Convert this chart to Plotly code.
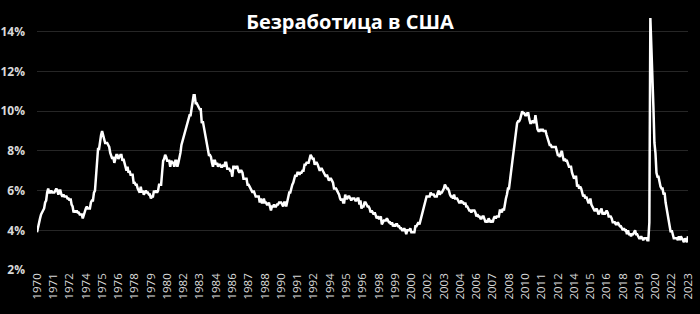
import plotly.graph_objects as go

title_text = "Безработица в США"

# Monthly US unemployment rate (%), Jan 1970 – May 2023
rate_by_year = {
    1970: [3.9, 4.2, 4.4, 4.6, 4.8, 4.9, 5.0, 5.1, 5.4, 5.5, 5.9, 6.1],
    1971: [5.9, 5.9, 6.0, 5.9, 5.9, 5.9, 6.0, 6.1, 6.0, 5.8, 6.0, 6.0],
    1972: [5.8, 5.7, 5.8, 5.7, 5.7, 5.7, 5.6, 5.6, 5.5, 5.6, 5.3, 5.2],
    1973: [4.9, 5.0, 4.9, 5.0, 4.9, 4.9, 4.8, 4.8, 4.8, 4.6, 4.8, 4.9],
    1974: [5.1, 5.2, 5.1, 5.1, 5.1, 5.4, 5.5, 5.5, 5.9, 6.0, 6.6, 7.2],
    1975: [8.1, 8.1, 8.6, 8.8, 9.0, 8.8, 8.6, 8.4, 8.4, 8.4, 8.3, 8.2],
    1976: [7.9, 7.7, 7.6, 7.7, 7.4, 7.6, 7.8, 7.8, 7.6, 7.7, 7.8, 7.8],
    1977: [7.5, 7.6, 7.4, 7.2, 7.0, 7.2, 6.9, 7.0, 6.8, 6.8, 6.8, 6.4],
    1978: [6.4, 6.3, 6.3, 6.1, 6.0, 5.9, 6.2, 5.9, 6.0, 5.8, 5.9, 6.0],
    1979: [5.9, 5.9, 5.8, 5.8, 5.6, 5.7, 5.7, 6.0, 5.9, 6.0, 5.9, 6.0],
    1980: [6.3, 6.3, 6.3, 6.9, 7.5, 7.6, 7.8, 7.7, 7.5, 7.5, 7.5, 7.2],
    1981: [7.5, 7.4, 7.4, 7.2, 7.5, 7.5, 7.2, 7.4, 7.6, 7.9, 8.3, 8.5],
    1982: [8.6, 8.9, 9.0, 9.3, 9.4, 9.6, 9.8, 9.8, 10.1, 10.4, 10.8, 10.8],
    1983: [10.4, 10.4, 10.3, 10.2, 10.1, 10.1, 9.4, 9.5, 9.2, 8.8, 8.5, 8.3],
    1984: [8.0, 7.8, 7.8, 7.7, 7.4, 7.2, 7.5, 7.5, 7.3, 7.4, 7.2, 7.3],
    1985: [7.3, 7.2, 7.2, 7.3, 7.2, 7.4, 7.4, 7.1, 7.1, 7.1, 7.0, 7.0],
    1986: [6.7, 7.2, 7.2, 7.1, 7.2, 7.2, 7.0, 6.9, 7.0, 7.0, 6.9, 6.6],
    1987: [6.6, 6.6, 6.6, 6.3, 6.3, 6.2, 6.1, 6.0, 5.9, 6.0, 5.8, 5.7],
    1988: [5.7, 5.7, 5.7, 5.4, 5.6, 5.4, 5.4, 5.6, 5.4, 5.4, 5.3, 5.3],
    1989: [5.4, 5.2, 5.0, 5.2, 5.2, 5.3, 5.2, 5.2, 5.3, 5.3, 5.4, 5.4],
    1990: [5.4, 5.3, 5.2, 5.4, 5.4, 5.2, 5.5, 5.7, 5.9, 5.9, 6.2, 6.3],
    1991: [6.4, 6.6, 6.8, 6.7, 6.9, 6.9, 6.8, 6.9, 6.9, 7.0, 7.0, 7.3],
    1992: [7.3, 7.4, 7.4, 7.4, 7.6, 7.8, 7.7, 7.6, 7.6, 7.3, 7.4, 7.4],
    1993: [7.3, 7.1, 7.0, 7.1, 7.1, 7.0, 6.9, 6.8, 6.7, 6.8, 6.6, 6.5],
    1994: [6.6, 6.6, 6.5, 6.4, 6.1, 6.1, 6.1, 6.0, 5.9, 5.8, 5.6, 5.5],
    1995: [5.6, 5.4, 5.4, 5.8, 5.6, 5.6, 5.7, 5.7, 5.6, 5.5, 5.6, 5.6],
    1996: [5.6, 5.5, 5.5, 5.6, 5.6, 5.3, 5.5, 5.1, 5.2, 5.2, 5.4, 5.4],
    1997: [5.3, 5.2, 5.2, 5.1, 4.9, 5.0, 4.9, 4.8, 4.9, 4.7, 4.6, 4.7],
    1998: [4.6, 4.6, 4.7, 4.3, 4.4, 4.5, 4.5, 4.5, 4.6, 4.5, 4.4, 4.4],
    1999: [4.3, 4.4, 4.2, 4.3, 4.2, 4.3, 4.3, 4.2, 4.2, 4.1, 4.1, 4.0],
    2000: [4.0, 4.1, 4.0, 3.8, 4.0, 4.0, 4.0, 4.1, 3.9, 3.9, 3.9, 3.9],
    2001: [4.2, 4.2, 4.3, 4.4, 4.3, 4.5, 4.6, 4.9, 5.0, 5.3, 5.5, 5.7],
    2002: [5.7, 5.7, 5.7, 5.9, 5.8, 5.8, 5.8, 5.7, 5.7, 5.7, 5.9, 6.0],
    2003: [5.8, 5.9, 5.9, 6.0, 6.1, 6.3, 6.2, 6.1, 6.1, 6.0, 5.8, 5.7],
    2004: [5.7, 5.6, 5.8, 5.6, 5.6, 5.6, 5.5, 5.4, 5.4, 5.5, 5.4, 5.4],
    2005: [5.3, 5.4, 5.2, 5.2, 5.1, 5.0, 5.0, 4.9, 5.0, 5.0, 5.0, 4.9],
    2006: [4.7, 4.8, 4.7, 4.7, 4.6, 4.6, 4.7, 4.7, 4.5, 4.4, 4.5, 4.4],
    2007: [4.6, 4.5, 4.4, 4.5, 4.4, 4.6, 4.7, 4.6, 4.7, 4.7, 4.7, 5.0],
    2008: [5.0, 4.9, 5.1, 5.0, 5.4, 5.6, 5.8, 6.1, 6.1, 6.5, 6.8, 7.3],
    2009: [7.8, 8.3, 8.7, 9.0, 9.4, 9.5, 9.5, 9.6, 9.8, 10.0, 9.9, 9.9],
    2010: [9.8, 9.8, 9.9, 9.9, 9.6, 9.4, 9.4, 9.5, 9.5, 9.4, 9.8, 9.3],
    2011: [9.1, 9.0, 9.0, 9.1, 9.0, 9.1, 9.0, 9.0, 9.0, 8.8, 8.6, 8.5],
    2012: [8.3, 8.3, 8.2, 8.2, 8.2, 8.2, 8.2, 8.0, 7.8, 7.8, 7.7, 7.9],
    2013: [8.0, 7.7, 7.5, 7.6, 7.5, 7.5, 7.3, 7.2, 7.2, 7.2, 6.9, 6.7],
    2014: [6.6, 6.7, 6.7, 6.2, 6.3, 6.1, 6.2, 6.1, 5.9, 5.7, 5.8, 5.6],
    2015: [5.7, 5.5, 5.4, 5.4, 5.6, 5.3, 5.2, 5.1, 5.0, 5.0, 5.1, 5.0],
    2016: [4.8, 4.9, 5.0, 5.1, 4.8, 4.9, 4.8, 4.9, 5.0, 4.9, 4.7, 4.7],
    2017: [4.7, 4.6, 4.4, 4.4, 4.4, 4.3, 4.3, 4.4, 4.3, 4.2, 4.2, 4.1],
    2018: [4.0, 4.1, 4.0, 4.0, 3.8, 4.0, 3.8, 3.8, 3.7, 3.8, 3.8, 3.9],
    2019: [4.0, 3.8, 3.8, 3.7, 3.6, 3.6, 3.7, 3.6, 3.5, 3.6, 3.6, 3.6],
    2020: [3.5, 3.5, 4.4, 14.7, 13.2, 11.0, 10.2, 8.4, 7.9, 6.9, 6.7, 6.7],
    2021: [6.4, 6.2, 6.1, 6.1, 5.8, 5.9, 5.4, 5.1, 4.7, 4.5, 4.2, 3.9],
    2022: [4.0, 3.8, 3.6, 3.6, 3.6, 3.6, 3.5, 3.7, 3.5, 3.7, 3.6, 3.5],
    2023: [3.4, 3.6, 3.5, 3.4, 3.7],
}

months = []
values = []
for yr, vals in rate_by_year.items():
    for m, v in enumerate(vals, start=1):
        months.append(f"{yr}-{m:02d}")
        values.append(v)

# Year labels every 16 months (category axis, as in the source chart)
tick_step = 16
tick_vals = months[::tick_step]
tick_text = [s[:4] for s in tick_vals]

y_ticks = [2, 4, 6, 8, 10, 12, 14]
y_text = [f"<b>{t}%</b>" for t in y_ticks]

fig = go.Figure()
fig.add_trace(go.Scatter(
    x=months, y=values, mode="lines",
    line=dict(color="#ffffff", width=2.5),
    hoverinfo="x+y",
))

font_family = "Open Sans, Noto Sans, DejaVu Sans, sans-serif"

fig.update_layout(
    width=700, height=314,
    paper_bgcolor="#000000", plot_bgcolor="#000000",
    margin=dict(l=37, r=12, t=8, b=44, autoexpand=False),
    showlegend=False,
    title=dict(
        text=f"<b>{title_text}</b>",
        x=0.5, xanchor="center",
        y=1 - 22 / 314, yref="container", yanchor="middle",
        font=dict(family=font_family, size=20, color="#ffffff"),
    ),
    xaxis=dict(
        type="category", automargin=False,
        categoryorder="array", categoryarray=months,
        range=[0, len(months) - 1],
        tickmode="array", tickvals=tick_vals, ticktext=tick_text,
        tickangle=-90,
        tickfont=dict(family=font_family, size=11.5, color="#d9d9d9"),
        showgrid=False, zeroline=False, showline=False,
        ticks="", ticklen=0,
    ),
    yaxis=dict(
        range=[2, 15.2], automargin=False,
        tickmode="array", tickvals=y_ticks, ticktext=y_text,
        tickfont=dict(family=font_family, size=12, color="#d9d9d9"),
        showgrid=True, gridcolor="#262626", gridwidth=1,
        zeroline=False, showline=False, ticks="",
        ticklabelstandoff=11,
    ),
)

fig.write_html("out.html")
